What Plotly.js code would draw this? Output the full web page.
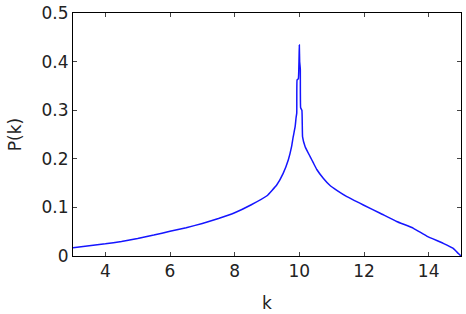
<!DOCTYPE html>
<html>
<head>
<meta charset="utf-8">
<script src="https://cdn.plot.ly/plotly-3.0.1.min.js"></script>
<style>html,body{margin:0;padding:0;background:#fff;}#chart{width:466px;height:314px;}</style>
</head>
<body>
<div id="chart"></div>
<script>
var kValues = [3, 3.5, 4, 4.5, 5, 5.5, 6, 6.5, 7, 7.5, 8.0, 8.5, 9.0, 9.3, 9.5, 9.66, 9.76, 9.81, 9.87, 9.9, 9.92, 9.93, 9.97, 10.0, 10.01, 10.03, 10.04, 10.08, 10.1, 10.18, 10.33, 10.43, 10.54, 10.74, 10.95, 11.16, 11.47, 11.98, 12.5, 13.01, 13.53, 13.94, 14.45, 14.75, 14.92, 15];
var pValues = [0.017, 0.021, 0.025, 0.030, 0.036, 0.043, 0.051, 0.058, 0.067, 0.077, 0.089, 0.105, 0.124, 0.146, 0.170, 0.198, 0.225, 0.245, 0.266, 0.285, 0.294, 0.362, 0.365, 0.434, 0.40, 0.385, 0.305, 0.30, 0.245, 0.225, 0.205, 0.192, 0.178, 0.160, 0.145, 0.135, 0.122, 0.105, 0.088, 0.071, 0.057, 0.041, 0.026, 0.016, 0.005, 0];
var xTicks = [4, 6, 8, 10, 12, 14];
var yTicks = [0, 0.1, 0.2, 0.3, 0.4, 0.5];
var yTickText = ['0', '0.1', '0.2', '0.3', '0.4', '0.5'];

var font = {family: 'DejaVu Sans, sans-serif', size: 17, color: '#222'};
Plotly.newPlot('chart', [{
  x: kValues, y: pValues, type: 'scatter', mode: 'lines',
  line: {color: '#1515ff', width: 1.5, shape: 'spline', smoothing: 0.3}
}], {
  width: 466, height: 314,
  margin: {l: 73, r: 5, t: 13, b: 58},
  paper_bgcolor: '#fff', plot_bgcolor: '#fff',
  showlegend: false,
  font: font,
  xaxis: {
    range: [3, 15], tickvals: xTicks, ticks: 'inside', ticklen: 4,
    showline: true, linecolor: '#000', linewidth: 1, mirror: 'ticks',
    showgrid: false, zeroline: false, tickfont: font,
    title: {text: 'k', font: font, standoff: 16}
  },
  yaxis: {
    range: [0, 0.5], tickvals: yTicks, ticktext: yTickText, ticks: 'inside', ticklen: 4,
    showline: true, linecolor: '#000', linewidth: 1, mirror: 'ticks',
    showgrid: false, zeroline: false, tickfont: font,
    title: {text: 'P(k)', font: font, standoff: 15}
  }
}, {displayModeBar: false, staticPlot: true});
</script>
</body>
</html>
